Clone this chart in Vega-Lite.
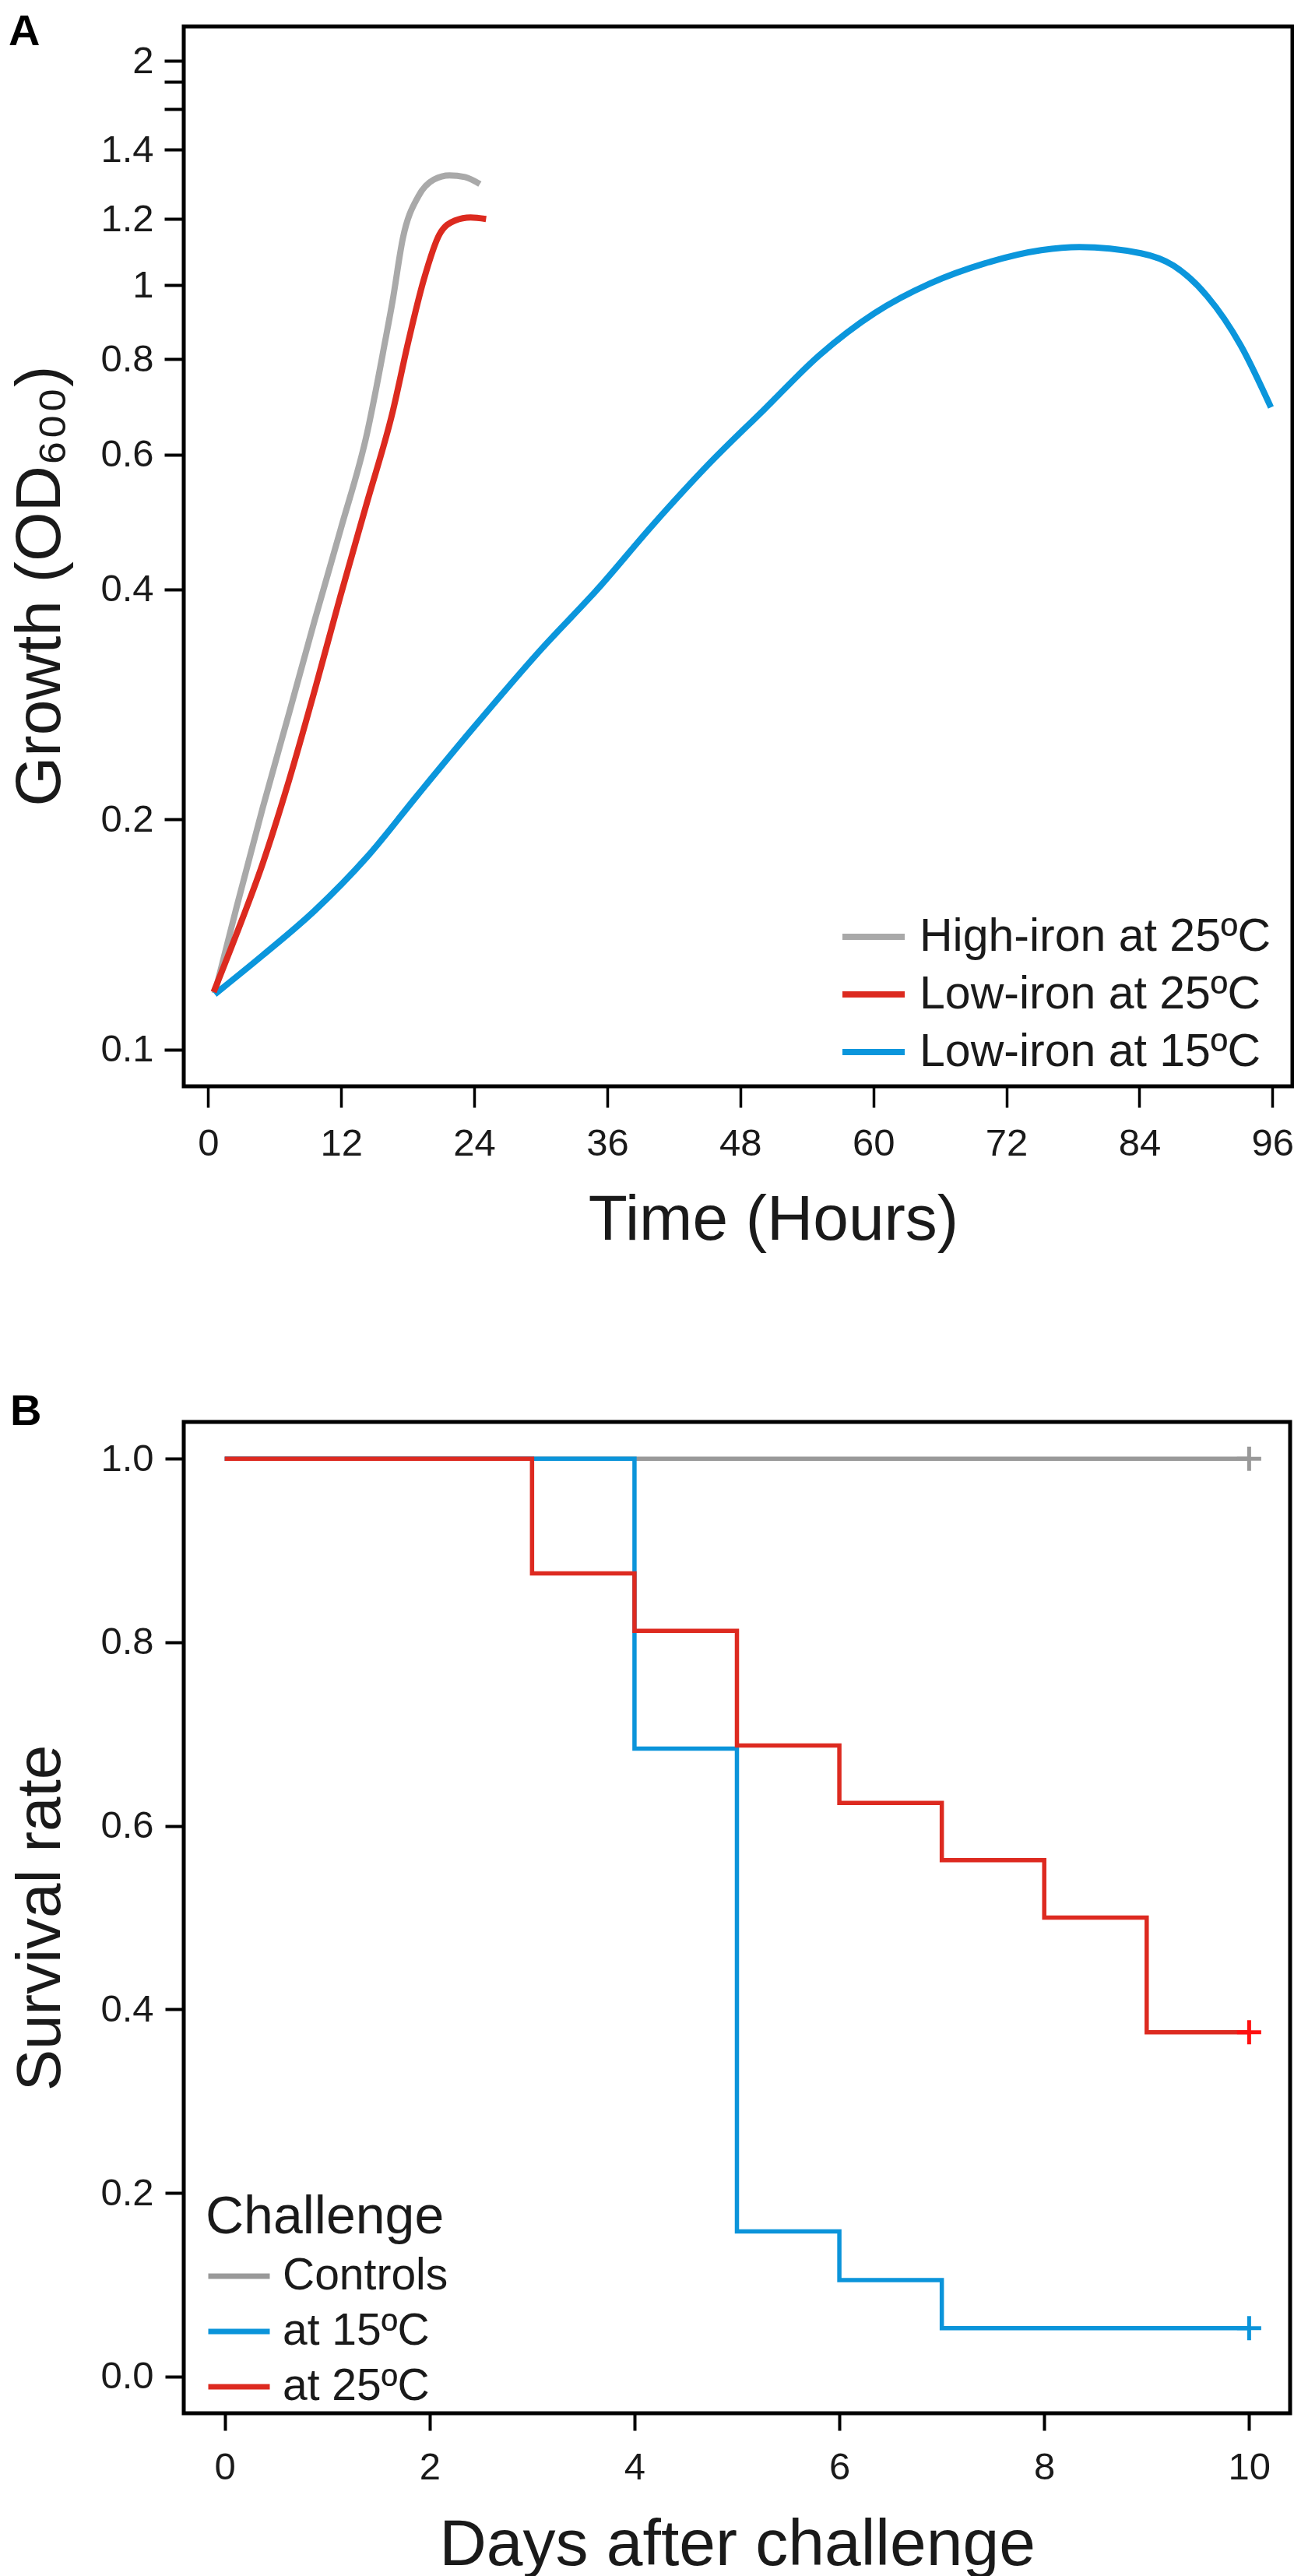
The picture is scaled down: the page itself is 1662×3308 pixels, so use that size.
{
  "$schema": "https://vega.github.io/schema/vega-lite/v6.json",
  "padding": {"left": 8, "top": 10, "right": 6, "bottom": 5},
  "background": "white",
  "config": {
    "font": "Liberation Sans",
    "view": {"stroke": "black", "strokeWidth": 5},
    "axis": {
      "domain": false,
      "grid": false,
      "tickColor": "black",
      "tickWidth": 4,
      "labelColor": "#1a1a1a",
      "titleColor": "#1a1a1a",
      "titleFontWeight": "normal",
      "labelFontSize": 49,
      "titleFontSize": 82
    },
    "legend": {
      "labelColor": "#1a1a1a",
      "titleColor": "#1a1a1a",
      "symbolType": "stroke",
      "padding": 0,
      "labelLimit": 0,
      "titleLimit": 0
    }
  },
  "resolve": {"scale": {"color": "independent", "x": "independent", "y": "independent"}, "legend": {"color": "independent"}},
  "spacing": 172,
  "datasets": {
    "growth": [
      {"series": "High-iron at 25ºC", "hours": 0.6, "od": 0.1185},
      {"series": "High-iron at 25ºC", "hours": 2.6, "od": 0.1542},
      {"series": "High-iron at 25ºC", "hours": 4.92, "od": 0.207},
      {"series": "High-iron at 25ºC", "hours": 7.3, "od": 0.2754},
      {"series": "High-iron at 25ºC", "hours": 9.62, "od": 0.3648},
      {"series": "High-iron at 25ºC", "hours": 11.94, "od": 0.4786},
      {"series": "High-iron at 25ºC", "hours": 14.33, "od": 0.6397},
      {"series": "High-iron at 25ºC", "hours": 15.94, "od": 0.8408},
      {"series": "High-iron at 25ºC", "hours": 16.64, "od": 0.9541},
      {"series": "High-iron at 25ºC", "hours": 17.56, "od": 1.151},
      {"series": "High-iron at 25ºC", "hours": 18.96, "od": 1.307},
      {"series": "High-iron at 25ºC", "hours": 20.37, "od": 1.375},
      {"series": "High-iron at 25ºC", "hours": 21.77, "od": 1.392},
      {"series": "High-iron at 25ºC", "hours": 23.17, "od": 1.385},
      {"series": "High-iron at 25ºC", "hours": 24.51, "od": 1.356},
      {"series": "Low-iron at 15ºC", "hours": 0.6, "od": 0.1181},
      {"series": "Low-iron at 15ºC", "hours": 4.92, "od": 0.1328},
      {"series": "Low-iron at 15ºC", "hours": 9.62, "od": 0.152},
      {"series": "Low-iron at 15ºC", "hours": 14.33, "od": 0.1786},
      {"series": "Low-iron at 15ºC", "hours": 18.96, "od": 0.2158},
      {"series": "Low-iron at 15ºC", "hours": 23.67, "od": 0.2609},
      {"series": "Low-iron at 15ºC", "hours": 30.13, "od": 0.335},
      {"series": "Low-iron at 15ºC", "hours": 35.11, "od": 0.4},
      {"series": "Low-iron at 15ºC", "hours": 40.17, "od": 0.4868},
      {"series": "Low-iron at 15ºC", "hours": 45.15, "od": 0.5832},
      {"series": "Low-iron at 15ºC", "hours": 50.14, "od": 0.6873},
      {"series": "Low-iron at 15ºC", "hours": 55.13, "od": 0.8096},
      {"series": "Low-iron at 15ºC", "hours": 60.11, "od": 0.9191},
      {"series": "Low-iron at 15ºC", "hours": 65.1, "od": 1.0047},
      {"series": "Low-iron at 15ºC", "hours": 70.08, "od": 1.0679},
      {"series": "Low-iron at 15ºC", "hours": 75.14, "od": 1.111},
      {"series": "Low-iron at 15ºC", "hours": 78.58, "od": 1.1217},
      {"series": "Low-iron at 15ºC", "hours": 84.13, "od": 1.1009},
      {"series": "Low-iron at 15ºC", "hours": 87.08, "od": 1.0604},
      {"series": "Low-iron at 15ºC", "hours": 90.1, "od": 0.9676},
      {"series": "Low-iron at 15ºC", "hours": 93.12, "od": 0.8347},
      {"series": "Low-iron at 15ºC", "hours": 95.86, "od": 0.692},
      {"series": "Low-iron at 25ºC", "hours": 0.5, "od": 0.1189},
      {"series": "Low-iron at 25ºC", "hours": 2.6, "od": 0.1421},
      {"series": "Low-iron at 25ºC", "hours": 4.92, "od": 0.1751},
      {"series": "Low-iron at 25ºC", "hours": 7.3, "od": 0.2251},
      {"series": "Low-iron at 25ºC", "hours": 9.62, "od": 0.2954},
      {"series": "Low-iron at 25ºC", "hours": 11.94, "od": 0.3924},
      {"series": "Low-iron at 25ºC", "hours": 14.33, "od": 0.5198},
      {"series": "Low-iron at 25ºC", "hours": 16.64, "od": 0.6823},
      {"series": "Low-iron at 25ºC", "hours": 18.05, "od": 0.8427},
      {"series": "Low-iron at 25ºC", "hours": 19.45, "od": 1.0165},
      {"series": "Low-iron at 25ºC", "hours": 20.86, "od": 1.1648},
      {"series": "Low-iron at 25ºC", "hours": 22.26, "od": 1.2148},
      {"series": "Low-iron at 25ºC", "hours": 23.67, "od": 1.2263},
      {"series": "Low-iron at 25ºC", "hours": 25.07, "od": 1.2206}
    ],
    "survival": [
      {"group": "Controls", "day": 0, "rate": 1},
      {"group": "Controls", "day": 10, "rate": 1},
      {"group": "at 15ºC", "day": 0, "rate": 1},
      {"group": "at 15ºC", "day": 4, "rate": 0.684},
      {"group": "at 15ºC", "day": 5, "rate": 0.158},
      {"group": "at 15ºC", "day": 6, "rate": 0.105},
      {"group": "at 15ºC", "day": 7, "rate": 0.0526},
      {"group": "at 15ºC", "day": 10, "rate": 0.0526},
      {"group": "at 25ºC", "day": 0, "rate": 1},
      {"group": "at 25ºC", "day": 3, "rate": 0.875},
      {"group": "at 25ºC", "day": 4, "rate": 0.8125},
      {"group": "at 25ºC", "day": 5, "rate": 0.6875},
      {"group": "at 25ºC", "day": 6, "rate": 0.625},
      {"group": "at 25ºC", "day": 7, "rate": 0.5625},
      {"group": "at 25ºC", "day": 8, "rate": 0.5},
      {"group": "at 25ºC", "day": 9, "rate": 0.375},
      {"group": "at 25ºC", "day": 10, "rate": 0.375}
    ]
  },
  "vconcat": [
    {
      "width": 1424,
      "height": 1361,
      "title": {
        "text": "A",
        "anchor": "start",
        "frame": "bounds",
        "fontSize": 56,
        "fontWeight": "bold",
        "color": "black",
        "baseline": "alphabetic",
        "offset": -80
      },
      "data": {"name": "growth"},
      "mark": {"type": "line", "interpolate": "monotone", "strokeWidth": 8},
      "encoding": {
        "x": {
          "field": "hours",
          "type": "quantitative",
          "scale": {"domain": [-2.2, 97.8], "nice": false, "zero": false},
          "axis": {
            "title": "Time (Hours)",
            "values": [0, 12, 24, 36, 48, 60, 72, 84, 96],
            "tickSize": 27,
            "tickWidth": 3.5,
            "labelPadding": 22,
            "titlePadding": 33,
            "titleX": 757
          }
        },
        "y": {
          "field": "od",
          "type": "quantitative",
          "scale": {"type": "log", "domain": [0.0895, 2.18], "nice": false},
          "axis": {
            "title": "Growth (OD₆₀₀)",
            "values": [0.1, 0.2, 0.4, 0.6, 0.8, 1, 1.221, 1.504, 1.699, 1.844, 1.965],
            "labelExpr": "datum.value < 0.15 ? '0.1' : datum.value < 0.3 ? '0.2' : datum.value < 0.5 ? '0.4' : datum.value < 0.7 ? '0.6' : datum.value < 0.9 ? '0.8' : datum.value < 1.1 ? '1' : datum.value < 1.3 ? '1.2' : datum.value < 1.6 ? '1.4' : datum.value > 1.9 ? '2' : ''",
            "tickSize": 25,
            "labelPadding": 14,
            "titlePadding": 35,
            "titleY": 718
          }
        },
        "color": {
          "field": "series",
          "type": "nominal",
          "scale": {
            "domain": ["High-iron at 25ºC", "Low-iron at 25ºC", "Low-iron at 15ºC"],
            "range": ["#a9a9a9", "#dc2a1f", "#0b96dc"]
          },
          "legend": {
            "title": null,
            "orient": "none",
            "legendX": 842,
            "legendY": 1125,
            "labelFontSize": 59,
            "symbolSize": 6400,
            "symbolStrokeWidth": 8,
            "labelOffset": 15,
            "rowPadding": -6
          }
        }
      }
    },
    {
      "width": 1421,
      "height": 1273,
      "title": {
        "text": "B",
        "anchor": "start",
        "frame": "bounds",
        "fontSize": 56,
        "fontWeight": "bold",
        "color": "black",
        "baseline": "alphabetic",
        "offset": -60
      },
      "data": {"name": "survival"},
      "encoding": {
        "x": {
          "field": "day",
          "type": "quantitative",
          "scale": {"domain": [-0.4, 10.4], "nice": false, "zero": false},
          "axis": {
            "title": "Days after challenge",
            "values": [0, 2, 4, 6, 8, 10],
            "tickSize": 22,
            "labelPadding": 23,
            "titlePadding": 34,
            "titleFontSize": 84
          }
        },
        "y": {
          "field": "rate",
          "type": "quantitative",
          "scale": {"domain": [-0.04, 1.04], "nice": false, "zero": false},
          "axis": {
            "title": "Survival rate",
            "values": [0, 0.2, 0.4, 0.6, 0.8, 1],
            "format": ".1f",
            "tickSize": 24,
            "labelPadding": 15,
            "titlePadding": 35,
            "titleFontSize": 80
          }
        }
      },
      "layer": [
        {
          "mark": {"type": "line", "interpolate": "step-after", "strokeWidth": 5.5},
          "encoding": {
            "color": {
              "field": "group",
              "type": "nominal",
              "scale": {
                "domain": ["Controls", "at 15ºC", "at 25ºC"],
                "range": ["#999999", "#0b94da", "#dd2a20"]
              },
              "legend": {
                "title": "Challenge",
                "orient": "none",
                "legendX": 28,
                "legendY": 988,
                "titleFontSize": 68,
                "titleFontWeight": "normal",
                "titlePadding": -2,
                "labelFontSize": 57,
                "symbolSize": 6241,
                "symbolStrokeWidth": 7,
                "labelOffset": 13,
                "rowPadding": -7
              }
            }
          }
        },
        {
          "transform": [{"filter": "datum.day == 10"}],
          "mark": {
            "type": "point",
            "shape": "M-1,0H1M0,-1V1",
            "size": 961,
            "filled": false,
            "strokeWidth": 5,
            "opacity": 1
          },
          "encoding": {
            "stroke": {
              "field": "group",
              "type": "nominal",
              "scale": {
                "domain": ["Controls", "at 15ºC", "at 25ºC"],
                "range": ["#999999", "#0b94da", "#ff1010"]
              },
              "legend": null
            }
          }
        }
      ]
    }
  ]
}
